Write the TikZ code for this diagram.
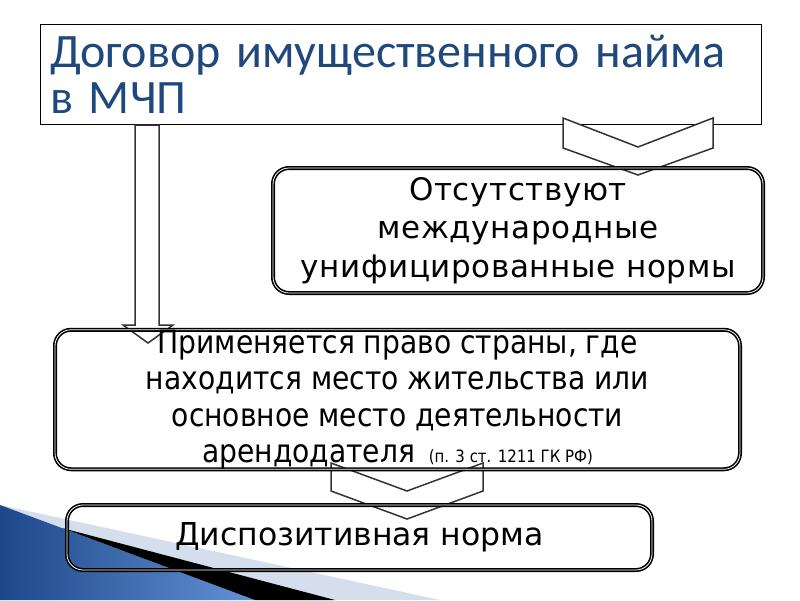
\documentclass[tikz,border=0pt]{standalone}
\usepackage{fontspec}
\setmainfont{DejaVu Sans}
\newfontfamily\titlefont{Carlito}
\newfontfamily\widefont[LetterSpace=2]{DejaVu Sans}
\newfontfamily\narrowfont[FakeStretch=0.88]{DejaVu Sans}
\definecolor{titleblue}{RGB}{31,73,125}
\definecolor{wedgedark}{RGB}{28,72,138}
\definecolor{wedgelight}{RGB}{100,145,214}
\definecolor{bandgray}{RGB}{212,222,236}
\begin{document}
\begin{tikzpicture}[x=1pt, y=-1pt,
    roundbox/.style={draw, rounded corners=16pt, line width=1.6pt, double=white, double distance=0.8pt, inner sep=0pt, align=center},
    blockarrow/.style={draw=black!80, fill=white, line width=1.5pt, line join=miter}]
    \useasboundingbox (0,0) rectangle (800,600);
    % декоративный клин внизу слева
    \fill[bandgray] (0,505) -- (440,600) -- (0,600) -- cycle;
    \shade[left color=wedgedark, right color=wedgelight] (0,505) -- (255,600) -- (0,600) -- cycle;
    \fill[black] (62,528) -- (335,600) -- (255,600) -- cycle;

    \node[draw, line width=0.8pt, minimum width=721pt, minimum height=100pt, text width=701pt, inner sep=0pt, align=left,
        text=titleblue, font=\titlefont\fontsize{48}{46}\selectfont] (title) at (400.5,74)
        {Договор имущественного найма\\в МЧП};

    \draw[blockarrow] (135,125) -- (135,325) -- (123,325) -- (148,343) -- (173,325) -- (159,325) -- (159,125) -- cycle;
    \draw[blockarrow] (563,118) -- (638,147) -- (713,118) -- (713,148) -- (638,175) -- (563,148) -- cycle;
    \draw[blockarrow] (331,463) -- (407,491) -- (483,463) -- (483,491) -- (407,519) -- (331,491) -- cycle;

    \node[roundbox, minimum width=490pt, minimum height=125pt, font=\widefont\fontsize{31}{38.5}\selectfont] (norms) at (518,230.5)
        {Отсутствуют\\международные\\унифицированные нормы};
    \node[roundbox, minimum width=685pt, minimum height=139pt, font=\narrowfont\fontsize{32}{36.5}\selectfont] (law) at (397.5,399.5)
        {Применяется право страны, где\\находится место жительства или\\основное место деятельности\\арендодателя {\fontsize{17}{17}\selectfont\ (п. 3 ст. 1211 ГК РФ)}};
    \node[roundbox, minimum width=585pt, minimum height=65pt, font=\fontsize{31.5}{36}\selectfont] (dispo) at (359.5,537.5)
        {Диспозитивная норма};
\end{tikzpicture}
\end{document}
